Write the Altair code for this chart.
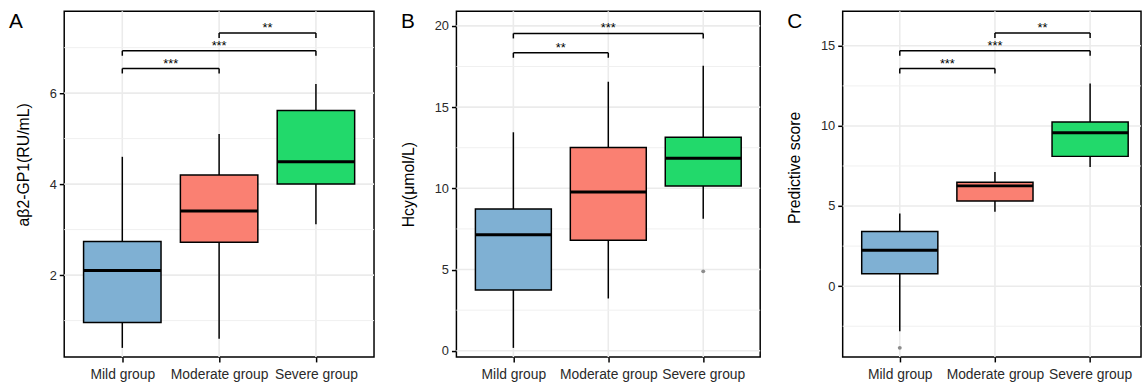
import json
import altair as alt
import pandas as pd

groups = ["Mild group", "Moderate group", "Severe group"]
colors = ["#7fb0d3", "#fa8072", "#22d96b"]
letters = ["A", "B", "C"]
titles = ["aβ2-GP1(RU/mL)", "Hcy(μmol/L)", "Predictive score"]

# Panel A
a_low = [0.40, 0.60, 3.12]
a_q1 = [0.96, 2.72, 4.00]
a_med = [2.10, 3.41, 4.49]
a_q3 = [2.74, 4.20, 5.62]
a_high = [4.60, 5.10, 6.20]
a_out_group = []
a_out_value = []
a_br_from = ["Mild group", "Mild group", "Moderate group"]
a_br_to = ["Moderate group", "Severe group", "Severe group"]
a_br_y = [6.54, 6.93, 7.32]
a_br_label = ["***", "***", "**"]
a_ticks = [2, 4, 6]
a_minor = [1, 3, 5, 7]
a_ydom = [0.2, 7.8]

# Panel B
b_low = [0.18, 3.22, 8.12]
b_q1 = [3.74, 6.80, 10.14]
b_med = [7.14, 9.78, 11.85]
b_q3 = [8.73, 12.51, 13.15]
b_high = [13.45, 16.56, 17.55]
b_out_group = ["Severe group"]
b_out_value = [4.89]
b_br_from = ["Mild group", "Mild group"]
b_br_to = ["Moderate group", "Severe group"]
b_br_y = [18.34, 19.53]
b_br_label = ["**", "***"]
b_ticks = [0, 5, 10, 15, 20]
b_minor = [2.5, 7.5, 12.5, 17.5]
b_ydom = [-0.38, 20.9]

# Panel C
c_low = [-2.82, 4.65, 7.44]
c_q1 = [0.78, 5.31, 8.10]
c_med = [2.24, 6.26, 9.57]
c_q3 = [3.41, 6.48, 10.25]
c_high = [4.54, 7.12, 12.65]
c_out_group = ["Mild group"]
c_out_value = [-3.85]
c_br_from = ["Mild group", "Mild group", "Moderate group"]
c_br_to = ["Moderate group", "Severe group", "Severe group"]
c_br_y = [13.58, 14.69, 15.80]
c_br_label = ["***", "***", "**"]
c_ticks = [0, 5, 10, 15]
c_minor = [-2.5, 2.5, 7.5, 12.5]
c_ydom = [-4.42, 17.16]

FONT = "Liberation Sans"
GARR = json.dumps(groups)
IDX = "indexof(%s, datum.{f}) + 1" % GARR


def panel(letter, title, low, q1, med, q3, high, out_g, out_v,
          br_from, br_to, br_y, br_lab, ticks, minor, ydom, xdom, width, title_y):
    xs = alt.Scale(domain=xdom, nice=False, zero=False)
    ys = alt.Scale(domain=ydom, nice=False, zero=False)
    x_axis = alt.Axis(values=[1, 2, 3], title=None, grid=False, domain=False,
                      labelExpr="%s[datum.value - 1]" % GARR,
                      tickSize=5, tickWidth=1.5, tickColor="black",
                      labelFontSize=14, labelColor="#2a2a2a", labelPadding=6,
                      labelFont=FONT, labelAngle=0)
    y_axis = alt.Axis(values=ticks, title=title, grid=False, domain=False,
                      tickSize=5, tickWidth=1.5, tickColor="black",
                      labelFontSize=13, labelColor="#2a2a2a", labelPadding=3,
                      labelFont=FONT, titleFont=FONT, titleFontSize=16,
                      titleFontWeight="normal", titleColor="black",
                      titlePadding=18, titleY=title_y)

    box = pd.DataFrame({"group": groups, "low": low, "q1": q1, "med": med,
                        "q3": q3, "high": high})
    base = (alt.Chart(box)
            .transform_calculate(idx=IDX.format(f="group"))
            .transform_calculate(xl="datum.idx - 0.4")
            .transform_calculate(xr="datum.idx + 0.4"))

    vgrid = base.mark_rule(color="#ebebeb", strokeWidth=1.6).encode(
        x=alt.X("idx:Q", scale=xs, axis=x_axis))
    hmajor = alt.Chart(pd.DataFrame({"v": ticks})).mark_rule(
        color="#ebebeb", strokeWidth=1.6).encode(
        y=alt.Y("v:Q", scale=ys, axis=y_axis))
    hminor = alt.Chart(pd.DataFrame({"v": minor})).mark_rule(
        color="#f0f0f0", strokeWidth=1.0).encode(
        y=alt.Y("v:Q", scale=ys, axis=y_axis))

    whisk = base.mark_rule(color="black", strokeWidth=1.5).encode(
        x=alt.X("idx:Q", scale=xs, axis=x_axis),
        y=alt.Y("low:Q", scale=ys, axis=y_axis), y2="high:Q")
    boxes = base.mark_bar(stroke="black", strokeWidth=1.5).encode(
        x=alt.X("xl:Q", scale=xs, axis=x_axis), x2="xr:Q",
        y=alt.Y("q1:Q", scale=ys, axis=y_axis), y2="q3:Q",
        color=alt.Color("group:N", scale=alt.Scale(domain=groups, range=colors),
                        legend=None))
    meds = base.mark_rule(color="black", strokeWidth=3).encode(
        x=alt.X("xl:Q", scale=xs, axis=x_axis), x2="xr:Q",
        y=alt.Y("med:Q", scale=ys, axis=y_axis))

    layers = [vgrid, hminor, hmajor, whisk, boxes, meds]

    if out_g:
        outs = (alt.Chart(pd.DataFrame({"group": out_g, "v": out_v}))
                .transform_calculate(idx=IDX.format(f="group"))
                .mark_circle(color="#8c8c8c", size=16, opacity=1)
                .encode(x=alt.X("idx:Q", scale=xs, axis=x_axis),
                        y=alt.Y("v:Q", scale=ys, axis=y_axis)))
        layers.append(outs)

    br = pd.DataFrame({"bfrom": br_from, "bto": br_to, "y": br_y, "lab": br_lab})
    brb = (alt.Chart(br)
           .transform_calculate(fi=IDX.format(f="bfrom"))
           .transform_calculate(ti=IDX.format(f="bto"))
           .transform_calculate(mid="(datum.fi + datum.ti) / 2"))
    hbar = brb.mark_rule(color="black", strokeWidth=1.5).encode(
        x=alt.X("fi:Q", scale=xs, axis=x_axis), x2="ti:Q",
        y=alt.Y("y:Q", scale=ys, axis=y_axis))
    ends = (alt.Chart(br)
            .transform_fold(["bfrom", "bto"], as_=["end", "g"])
            .transform_calculate(ix=IDX.format(f="g"))
            .mark_rule(color="black", strokeWidth=1.5, y2Offset=5)
            .encode(x=alt.X("ix:Q", scale=xs, axis=x_axis),
                    y=alt.Y("y:Q", scale=ys, axis=y_axis), y2="y:Q"))
    labs = brb.mark_text(font=FONT, fontSize=13, color="black", dy=-1,
                         baseline="alphabetic", align="center").encode(
        x=alt.X("mid:Q", scale=xs, axis=x_axis),
        y=alt.Y("y:Q", scale=ys, axis=y_axis), text="lab:N")
    lett = alt.Chart(pd.DataFrame({"t": [letter]})).mark_text(
        font=FONT, fontSize=21, color="black", align="left", baseline="top",
        x=-56, y=0).encode(text="t:N")
    layers += [hbar, ends, labs, lett]

    return alt.layer(*layers).properties(width=width, height=350)


pA = panel(letters[0], titles[0], a_low, a_q1, a_med, a_q3, a_high,
           a_out_group, a_out_value, a_br_from, a_br_to, a_br_y, a_br_label,
           a_ticks, a_minor, a_ydom, [0.4, 3.6], 313.6, 155)
pB = panel(letters[1], titles[1], b_low, b_q1, b_med, b_q3, b_high,
           b_out_group, b_out_value, b_br_from, b_br_to, b_br_y, b_br_label,
           b_ticks, b_minor, b_ydom, [0.4, 3.6], 307.5, 175)
pC = panel(letters[2], titles[2], c_low, c_q1, c_med, c_q3, c_high,
           c_out_group, c_out_value, c_br_from, c_br_to, c_br_y, c_br_label,
           c_ticks, c_minor, c_ydom, [0.4, 3.535], 302, 158)

chart = (alt.hconcat(pA, pB, pC, spacing=23)
         .properties(padding={"left": 8, "top": 7, "right": 0, "bottom": 0},
                     background="white")
         .configure_view(stroke="black", strokeWidth=1.5))

chart.save("out.html", embed_options={"renderer": "svg", "actions": False})
